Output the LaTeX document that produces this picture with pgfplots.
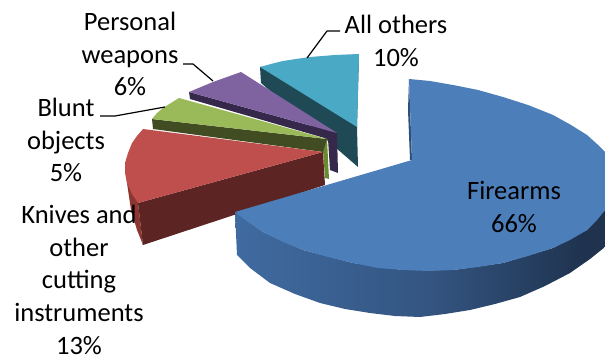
\documentclass[border=0pt]{standalone}
\usepackage{fontspec}
\setmainfont{Carlito}
\usepackage{pgfplots}
\pgfplotsset{compat=1.18}
\definecolor{blueTop}{HTML}{4C7EBA}
\definecolor{blueEdge}{HTML}{2F5079}
\definecolor{redTop}{HTML}{BE4F4C}
\definecolor{redSide}{HTML}{5C2523}
\definecolor{redRim}{HTML}{8C3531}
\definecolor{greenTop}{HTML}{9ABA59}
\definecolor{greenSide}{HTML}{424C22}
\definecolor{greenTip}{HTML}{6A8A2E}
\definecolor{purpleTop}{HTML}{7F63A1}
\definecolor{purpleSide}{HTML}{35284A}
\definecolor{tealTop}{HTML}{4AA9C5}
\definecolor{tealSide}{HTML}{1F4A55}
\pgfdeclarehorizontalshading{bluerim}{100bp}{
  rgb(0bp)=(0.25,0.42,0.63);
  rgb(25bp)=(0.25,0.42,0.63);
  rgb(52bp)=(0.20,0.33,0.50);
  rgb(72bp)=(0.12,0.20,0.31);
  rgb(100bp)=(0.12,0.20,0.31)}
\begin{document}
\begin{tikzpicture}
\begin{axis}[
  scale only axis, width=605pt, height=358pt,
  xmin=0, xmax=605, ymin=0, ymax=358, y dir=reverse,
  hide axis, no markers, line join=round]
% Keep the full frame in the bounding box
\path (axis cs:0,0) rectangle (axis cs:605,358);
% All others, 10%
\addplot[fill=tealSide, draw=none] coordinates {(260,67)(261,83)(358,167)(357,127)(359,54)};
\addplot[fill=tealTop, draw=none] coordinates {(260,67)(271,64)(283,61)(296,59)(310,57)(335,55)(359,54)(357,127)};
% Personal weapons, 6%
\addplot[fill=purpleSide, draw=none] coordinates {(189,92)(190,99)(328,139)(330,170)(338,173)(337,133)};
\addplot[fill=purpleTop, draw=none] coordinates {(189,92)(201,87)(213,82)(227,77)(241,72)(337,133)};
% Blunt objects, 5%
\addplot[fill=greenTip, draw=none] coordinates {(323,150)(325,178)(329,179)(327,139)};
\addplot[fill=greenSide, draw=none] coordinates {(152,119)(153,129)(323,152)(327,139)};
\addplot[fill=greenTop, draw=none] coordinates {(152,119)(157,113)(163,108)(171,103)(179,98)(327,139)};
% Knives and other cutting instruments, 13%
\addplot[fill=redRim, draw=none] coordinates {(125,163)(127,183)(131,210)(137,230)(143,245)(138,203)};
\addplot[fill=redSide, draw=none] coordinates {(138,203)(143,245)(325,185)(323,152)};
\addplot[fill=redTop, draw=none] coordinates {(143,129)(137,136)(132,143)(128,153)(125,163)(125,173)(127,183)(132,194)(138,203)(323,152)};
% Firearms, 66%
\addplot[shading=bluerim, draw=none] coordinates {(235,212)(237,255)(250,268)(270,283)(295,294)(320,303)(345,309)(370,313)(395,316)(420,317)(445,314)(470,310)(495,304)(520,297)(545,286)(570,273)(590,259)(605,247)(605,210)(587,230)(553,248)(503,263)(453,270)(403,270)(353,263)(303,250)(263,232)};
\addplot[fill=blueEdge, draw=none] coordinates {(409,79)(408,110)(410,160)(412,160)};
\addplot[fill=blueTop, draw=none] coordinates {(409,79)(430,81)(453,85)(478,90)(503,97)(528,105)(553,115)(571,125)(587,135)(597,144)(605,152)(605,210)(597,220)(587,230)(570,240)(553,248)(528,256)(503,263)(478,267)(453,270)(428,271)(403,270)(378,268)(353,263)(328,257)(303,250)(283,242)(263,232)(248,222)(235,212)(412,160)};
% Leader lines
\addplot[black, line width=1.2pt] coordinates {(183,64)(193,64)(213,81)};
\addplot[black, line width=1.2pt] coordinates {(100,116)(115,116)(165,107)};
\addplot[black, line width=1.2pt] coordinates {(307,58)(327,31)(340,31)};
% Category labels
\tikzset{
  lab/.style={align=center, inner sep=0pt, font=\fontsize{26.5}{32.5}\selectfont},
  line/.style={anchor=base, inner sep=0pt, font=\fontsize{26.5}{32.5}\selectfont}}
\node[lab] at (axis cs:514,207) {Firearms\\66\%};
\node[lab] at (axis cs:396,41) {All others\\10\%};
\node[lab] at (axis cs:130,54) {Personal\\weapons\\6\%};
\node[lab] at (axis cs:66,140) {Blunt\\objects\\5\%};
\node[line] at (axis cs:79,223) {Knives and};
\node[line] at (axis cs:79,256) {other};
\node[line] at (axis cs:79,288) {cutting};
\node[line] at (axis cs:79,321) {instruments};
\node[line] at (axis cs:79,354) {13\%};
\end{axis}
\end{tikzpicture}
\end{document}
